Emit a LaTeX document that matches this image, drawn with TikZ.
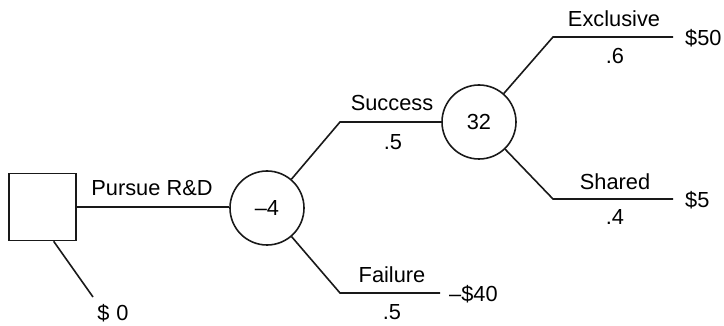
\documentclass[tikz,border=0pt]{standalone}
\usepackage{fontspec}
\setmainfont{Liberation Sans}
\begin{document}
\begin{tikzpicture}[x=1pt,y=-1pt,
  every node/.style={font=\fontsize{21.8}{25}\selectfont, inner sep=0pt},
  branch/.style={line width=1.6pt, draw=black!90},
  chance/.style={circle, draw=black!90, line width=1.6pt, minimum size=74pt},
  decision/.style={rectangle, draw=black!90, line width=1.6pt, minimum size=67pt},
  lbl/.style={anchor=center}]
\useasboundingbox (0,0) rectangle (724,326);
% nodes
\node[decision] (sq) at (42.5,207) {};
\node[chance] (c1) at (267,208) {–4};
\node[chance] (c2) at (479,122) {32};
\coordinate (z) at (93,297);
\coordinate (k1) at (340,122);
\coordinate (k2) at (340,293);
\coordinate (e2) at (440,293);
\coordinate (k3) at (553,37);
\coordinate (e3) at (673,37);
\coordinate (k4) at (553,199);
\coordinate (e4) at (673,199);
% connectors
\draw[branch] (sq.east) -- (sq.east -| c1.west);
\draw[branch] (sq.-72) -- (z);
\draw[branch] (c1) -- (k1) -- (c2);
\draw[branch] (c1) -- (k2) -- (e2);
\draw[branch] (c2) -- (k3) -- (e3);
\draw[branch] (c2) -- (k4) -- (e4);
% labels
\node[lbl] (lpur) at (152,188) {Pursue R\&D};
\node[lbl] (lzero) at (113,313) {\$\hspace{7pt}0};
\node[lbl] (lsuc) at (392,103) {Success};
\node[lbl] (psuc) at (393,142) {.5};
\node[lbl] (lfail) at (392,275) {Failure};
\node[lbl] (pfail) at (392,312) {.5};
\node[lbl, anchor=west] (vfail) at (449,294) {–\$40};
\node[lbl] (lexc) at (614,19) {Exclusive};
\node[lbl] (pexc) at (615,56) {.6};
\node[lbl, anchor=west] (vexc) at (685,38) {\$50};
\node[lbl] (lsh) at (615,182) {Shared};
\node[lbl] (psh) at (615,217) {.4};
\node[lbl, anchor=west] (vsh) at (685,200) {\$5};
\end{tikzpicture}
\end{document}
